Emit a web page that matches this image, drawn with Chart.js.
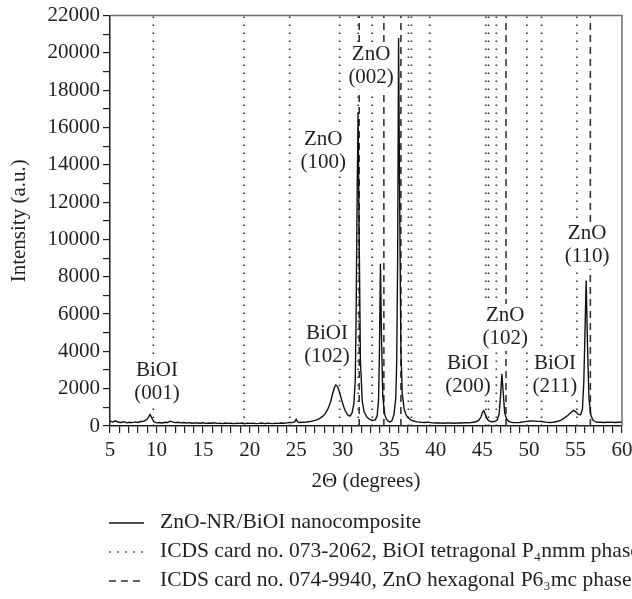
<!DOCTYPE html>
<html>
<head>
<meta charset="utf-8">
<script src="https://cdn.jsdelivr.net/npm/chart.js@4.4.0/dist/chart.umd.min.js"></script>
<style>
  html, body { margin: 0; padding: 0; background: #fff; }
</style>
</head>
<body>
<canvas id="chart" width="632" height="599"></canvas>
<script>
// measured pattern, 2theta in degrees
const twoTheta = [
  5.0, 5.3, 5.6, 5.9, 6.2, 6.5, 6.8, 7.1, 7.4, 7.7, 8.0, 8.3, 8.6, 8.9, 9.1, 9.3, 9.5, 9.7,
  10.0, 10.3, 10.6, 10.9, 11.2, 11.5, 11.7, 12.0, 12.3, 12.6, 12.9, 13.2, 13.5, 13.8, 14.1,
  14.4, 14.7, 15.0, 15.3, 15.6, 15.9, 16.2, 16.5, 16.8, 17.1, 17.4, 17.7, 18.0, 18.3, 18.6,
  18.9, 19.2, 19.5, 19.8, 20.1, 20.4, 20.7, 21.0, 21.3, 21.6, 21.9, 22.2, 22.5, 22.8, 23.1,
  23.4, 23.7, 24.0, 24.3, 24.6, 24.85, 25.0, 25.15, 25.4, 25.7, 26.0, 26.3, 26.6, 26.9, 27.2,
  27.5, 27.8, 28.1, 28.4, 28.7, 28.9, 29.1, 29.25, 29.4, 29.6, 29.8, 30.0, 30.2, 30.4, 30.6,
  30.8, 31.0, 31.2, 31.35, 31.45, 31.55, 31.65, 31.75, 31.9, 32.1, 32.3, 32.6, 32.9, 33.2,
  33.5, 33.7, 33.85, 33.95, 34.05, 34.15, 34.3, 34.5, 34.7, 34.9, 35.1, 35.3, 35.5, 35.7,
  35.8, 35.9, 36.0, 36.1, 36.25, 36.4, 36.6, 36.8, 37.0, 37.3, 37.6, 38.0, 38.4, 38.8, 39.2,
  39.6, 40.0, 40.4, 40.8, 41.2, 41.6, 42.0, 42.4, 42.8, 43.2, 43.6, 44.0, 44.3, 44.6, 44.85,
  45.0, 45.15, 45.3, 45.5, 45.7, 46.0, 46.3, 46.6, 46.8, 46.95, 47.1, 47.25, 47.4, 47.6,
  47.8, 48.0, 48.3, 48.6, 49.0, 49.4, 49.8, 50.2, 50.6, 51.0, 51.4, 51.8, 52.2, 52.6, 53.0,
  53.4, 53.8, 54.2, 54.5, 54.8, 55.05, 55.3, 55.55, 55.75, 55.9, 56.05, 56.15, 56.3, 56.45,
  56.65, 56.85, 57.1, 57.4, 57.7, 58.0, 58.4, 58.8, 59.2, 59.6, 60.0
]
const intensity = [
  260, 220, 280, 200, 190, 230, 170, 200, 180, 220, 190, 240, 250, 330, 450, 620, 420, 230,
  170, 190, 160, 200, 190, 260, 220, 180, 200, 170, 190, 160, 180, 150, 170,
  160, 150, 170, 140, 160, 150, 170, 140, 150, 130, 160, 140, 150, 130, 150,
  140, 160, 130, 150, 140, 150, 130, 140, 160, 130, 150, 140, 130, 150, 140,
  160, 150, 170, 190, 180, 230, 360, 220, 190, 200, 210, 230, 250, 290, 330,
  400, 500, 650, 900, 1300, 1700, 2050, 2200, 2150, 1900, 1550, 1200, 900, 700, 560,
  540, 700, 1200, 2500, 6500, 12500, 16800, 11000, 3500, 1300, 750, 480, 350, 300,
  330, 550, 1400, 4200, 8700, 5200, 1600, 650, 350, 250, 220, 300, 600, 1500,
  3500, 9000, 20800, 13000, 4000, 1700, 900, 600, 450, 330, 270, 220, 200, 190, 210,
  170, 160, 170, 150, 170, 160, 150, 170, 160, 180, 170, 200, 230, 300, 480,
  720, 820, 650, 400, 270, 230, 240, 320, 650, 1600, 2800, 1700, 700, 380,
  260, 210, 190, 180, 190, 220, 250, 270, 260, 250, 240, 210, 190, 200, 240,
  300, 420, 580, 720, 840, 760, 620, 600, 900, 2400, 5600, 7800, 4200, 1500,
  600, 330, 230, 200, 210, 190, 200, 210, 190, 200, 200
]

// reference card positions (2theta)
const biOILines = [9.66, 19.39, 24.3, 29.67, 31.66, 33.17, 37.06, 37.39, 39.36, 45.38, 45.67, 46.5, 49.78, 51.36, 55.15]
const znOLines = [31.77, 34.42, 36.25, 47.54, 56.6]

// peak annotations: text, anchor 2theta, anchor intensity (first line)
const peakPhase = ["BiOI", "ZnO", "BiOI", "ZnO", "BiOI", "ZnO", "BiOI", "ZnO"]
const peakHkl = ["(001)", "(100)", "(102)", "(002)", "(200)", "(102)", "(211)", "(110)"]
const peakAtX = [10.05, 27.9, 28.3, 33.05, 43.45, 47.45, 52.8, 56.25]
const peakAtY = [3000, 15350, 4950, 19900, 3350, 5900, 3350, 10300]

const seriesNames = [
  "ZnO-NR/BiOI nanocomposite",
  "ICDS card no. 073-2062, BiOI tetragonal P\u2084nmm phase",
  "ICDS card no. 074-9940, ZnO hexagonal P6\u2083mc phase"
]

const serif = "'Liberation Serif', 'Times New Roman', serif"
const ink = "#231f20"

function refLines(list) {
  const pts = []
  list.forEach(v => {
    pts.push({ x: v, y: 0 })
    pts.push({ x: v, y: 22000 })
    pts.push({ x: v, y: null })
  })
  return pts
}

const framePlugin = {
  id: "frame",
  afterDraw(chart) {
    const a = chart.chartArea
    const c = chart.ctx
    c.save()
    c.strokeStyle = "#6d6e71"
    c.lineWidth = 1.5
    c.beginPath()
    c.moveTo(a.left, a.top)
    c.lineTo(a.right, a.top)
    c.lineTo(a.right, a.bottom)
    c.stroke()
    c.restore()
  }
}

const peakLabelPlugin = {
  id: "peakLabels",
  afterDatasetsDraw(chart) {
    const c = chart.ctx
    const xs = chart.scales.x
    const ys = chart.scales.y
    c.save()
    c.font = "21px " + serif
    c.textAlign = "center"
    c.textBaseline = "middle"
    peakPhase.forEach((name, i) => {
      const px = xs.getPixelForValue(peakAtX[i])
      const py = ys.getPixelForValue(peakAtY[i])
      const w = Math.max(c.measureText(name).width, c.measureText(peakHkl[i]).width) + 4
      c.fillStyle = "#fff"
      c.fillRect(px - w / 2, py - 12, w, 47)
      c.fillStyle = ink
      c.fillText(name, px, py)
      c.fillText(peakHkl[i], px, py + 23)
    })
    c.restore()
  }
}

const legendPlugin = {
  id: "lineLegend",
  afterDraw(chart) {
    const c = chart.ctx
    const rows = [522, 551, 580]
    c.save()
    c.font = "21.5px " + serif
    c.textBaseline = "middle"
    chart.data.datasets.forEach((ds, i) => {
      c.strokeStyle = ds.borderColor
      c.lineWidth = ds.borderWidth
      c.setLineDash(ds.borderDash || [])
      c.beginPath()
      c.moveTo(109, rows[i] + 1)
      c.lineTo(144, rows[i] + 1)
      c.stroke()
      c.setLineDash([])
      c.fillStyle = ink
      c.fillText(ds.label, 160, rows[i])
    })
    c.restore()
  }
}

new Chart(document.getElementById("chart"), {
  type: "line",
  data: {
    datasets: [
      {
        label: seriesNames[0],
        data: twoTheta.map((t, i) => ({ x: t, y: intensity[i] })),
        borderColor: "#111",
        borderWidth: 1.4,
        pointRadius: 0,
        tension: 0,
        order: 0
      },
      {
        label: seriesNames[1],
        data: refLines(biOILines),
        borderColor: "#333",
        borderWidth: 1.6,
        borderDash: [1.6, 6.4],
        pointRadius: 0,
        spanGaps: false,
        order: 2
      },
      {
        label: seriesNames[2],
        data: refLines(znOLines),
        borderColor: "#333",
        borderWidth: 1.6,
        borderDash: [7, 5],
        pointRadius: 0,
        spanGaps: false,
        order: 1
      }
    ]
  },
  options: {
    responsive: false,
    animation: false,
    devicePixelRatio: 1,
    layout: { padding: { top: 14, right: 10, bottom: 103, left: 0 } },
    plugins: {
      legend: { display: false },
      tooltip: { enabled: false }
    },
    scales: {
      x: {
        type: "linear",
        min: 5,
        max: 60,
        afterFit: s => {
          s.height = 70
          s.paddingLeft = 0
          s.paddingRight = 0
        },
        border: { color: ink, width: 1.5 },
        grid: { drawOnChartArea: false, drawTicks: true, tickLength: 7, color: ink, lineWidth: 1.2 },
        ticks: {
          stepSize: 1,
          autoSkip: false,
          maxRotation: 0,
          padding: 5,
          color: ink,
          font: { family: serif, size: 21 },
          callback: v => (v % 5 === 0 ? v : "")
        },
        title: {
          display: true,
          text: "2\u0398 (degrees)",
          color: ink,
          font: { family: serif, size: 21 },
          padding: { top: 0, bottom: 2 }
        }
      },
      y: {
        min: 0,
        max: 22000,
        afterFit: s => { s.width = 110 },
        border: { color: ink, width: 1.5 },
        grid: { drawOnChartArea: false, drawTicks: true, tickLength: 7, color: ink, lineWidth: 1.2 },
        ticks: {
          stepSize: 1000,
          autoSkip: false,
          padding: 3,
          color: ink,
          font: { family: serif, size: 21 },
          callback: v => (v % 2000 === 0 ? v : "")
        },
        title: {
          display: true,
          text: "Intensity (a.u.)",
          color: ink,
          font: { family: serif, size: 21 },
          padding: { top: 7, bottom: 0 }
        }
      }
    }
  },
  plugins: [framePlugin, peakLabelPlugin, legendPlugin]
})
</script>
</body>
</html>
